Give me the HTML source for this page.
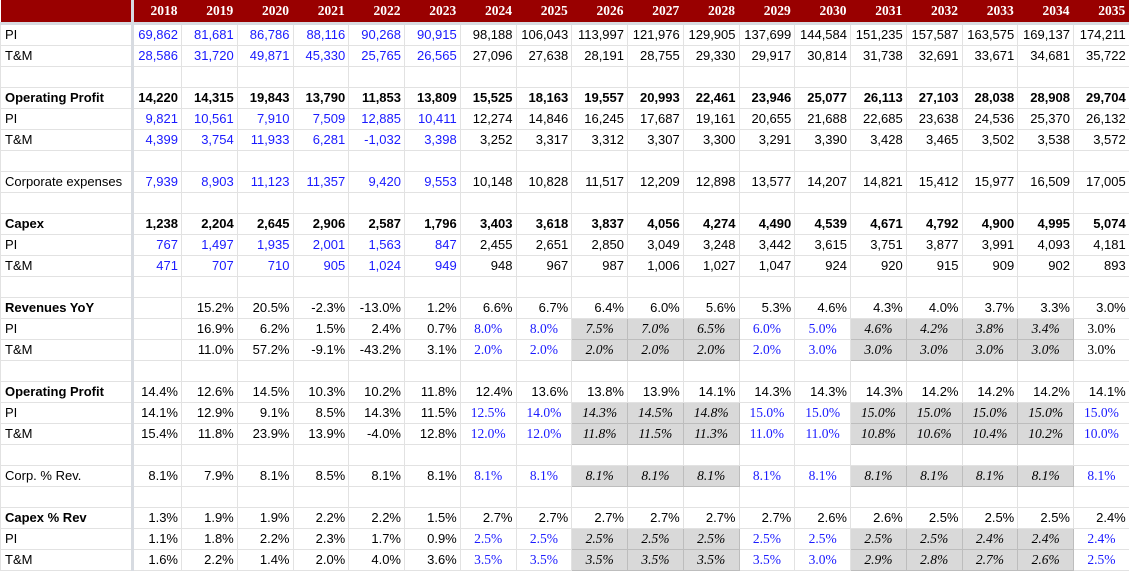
<!DOCTYPE html>
<html><head><meta charset="utf-8"><style>
body{margin:0;background:#fff;width:1129px;height:574px;overflow:hidden}
table{border-collapse:collapse;table-layout:fixed;width:1129px;font-family:"Liberation Sans",Arial,sans-serif;font-size:13px}
td{height:20px;padding:0 3px 0 2px;border:1px solid #e2e2e2;text-align:right;white-space:nowrap;overflow:hidden;color:#000;line-height:20px}
td:first-child{text-align:left;border-right:3px solid #d7dbe1;padding-left:4px}
tr.h td{background:#990000;color:#fff;font-family:"Liberation Serif",serif;font-weight:bold;height:22px;line-height:22px;border:none;border-bottom:3px solid #d7dbe1;font-size:13.5px;padding-right:4px}
tr.h td:first-child{border-right:3px solid #d7dbe1}
.u{color:#1a1aff}
.b td{font-weight:bold}
.l td:first-child{font-weight:bold}
.s,.g,.k{font-family:"Liberation Serif",serif;text-align:center;padding:0;font-size:13.5px}
.s{color:#1a1aff}
.g{background:#d9d9d9;font-style:italic;border-color:#bdbdbd}
</style></head><body>
<table>
<colgroup><col style="width:132px"><col style="width:49px"><col span="17" style="width:55.76px"></colgroup>
<tr class="h"><td></td><td>2018</td><td>2019</td><td>2020</td><td>2021</td><td>2022</td><td>2023</td><td>2024</td><td>2025</td><td>2026</td><td>2027</td><td>2028</td><td>2029</td><td>2030</td><td>2031</td><td>2032</td><td>2033</td><td>2034</td><td>2035</td></tr>
<tr><td>PI</td><td class="u">69,862</td><td class="u">81,681</td><td class="u">86,786</td><td class="u">88,116</td><td class="u">90,268</td><td class="u">90,915</td><td>98,188</td><td>106,043</td><td>113,997</td><td>121,976</td><td>129,905</td><td>137,699</td><td>144,584</td><td>151,235</td><td>157,587</td><td>163,575</td><td>169,137</td><td>174,211</td></tr>
<tr><td>T&amp;M</td><td class="u">28,586</td><td class="u">31,720</td><td class="u">49,871</td><td class="u">45,330</td><td class="u">25,765</td><td class="u">26,565</td><td>27,096</td><td>27,638</td><td>28,191</td><td>28,755</td><td>29,330</td><td>29,917</td><td>30,814</td><td>31,738</td><td>32,691</td><td>33,671</td><td>34,681</td><td>35,722</td></tr>
<tr><td></td><td></td><td></td><td></td><td></td><td></td><td></td><td></td><td></td><td></td><td></td><td></td><td></td><td></td><td></td><td></td><td></td><td></td><td></td></tr>
<tr class="b"><td>Operating Profit</td><td>14,220</td><td>14,315</td><td>19,843</td><td>13,790</td><td>11,853</td><td>13,809</td><td>15,525</td><td>18,163</td><td>19,557</td><td>20,993</td><td>22,461</td><td>23,946</td><td>25,077</td><td>26,113</td><td>27,103</td><td>28,038</td><td>28,908</td><td>29,704</td></tr>
<tr><td>PI</td><td class="u">9,821</td><td class="u">10,561</td><td class="u">7,910</td><td class="u">7,509</td><td class="u">12,885</td><td class="u">10,411</td><td>12,274</td><td>14,846</td><td>16,245</td><td>17,687</td><td>19,161</td><td>20,655</td><td>21,688</td><td>22,685</td><td>23,638</td><td>24,536</td><td>25,370</td><td>26,132</td></tr>
<tr><td>T&amp;M</td><td class="u">4,399</td><td class="u">3,754</td><td class="u">11,933</td><td class="u">6,281</td><td class="u">-1,032</td><td class="u">3,398</td><td>3,252</td><td>3,317</td><td>3,312</td><td>3,307</td><td>3,300</td><td>3,291</td><td>3,390</td><td>3,428</td><td>3,465</td><td>3,502</td><td>3,538</td><td>3,572</td></tr>
<tr><td></td><td></td><td></td><td></td><td></td><td></td><td></td><td></td><td></td><td></td><td></td><td></td><td></td><td></td><td></td><td></td><td></td><td></td><td></td></tr>
<tr><td>Corporate expenses</td><td class="u">7,939</td><td class="u">8,903</td><td class="u">11,123</td><td class="u">11,357</td><td class="u">9,420</td><td class="u">9,553</td><td>10,148</td><td>10,828</td><td>11,517</td><td>12,209</td><td>12,898</td><td>13,577</td><td>14,207</td><td>14,821</td><td>15,412</td><td>15,977</td><td>16,509</td><td>17,005</td></tr>
<tr><td></td><td></td><td></td><td></td><td></td><td></td><td></td><td></td><td></td><td></td><td></td><td></td><td></td><td></td><td></td><td></td><td></td><td></td><td></td></tr>
<tr class="b"><td>Capex</td><td>1,238</td><td>2,204</td><td>2,645</td><td>2,906</td><td>2,587</td><td>1,796</td><td>3,403</td><td>3,618</td><td>3,837</td><td>4,056</td><td>4,274</td><td>4,490</td><td>4,539</td><td>4,671</td><td>4,792</td><td>4,900</td><td>4,995</td><td>5,074</td></tr>
<tr><td>PI</td><td class="u">767</td><td class="u">1,497</td><td class="u">1,935</td><td class="u">2,001</td><td class="u">1,563</td><td class="u">847</td><td>2,455</td><td>2,651</td><td>2,850</td><td>3,049</td><td>3,248</td><td>3,442</td><td>3,615</td><td>3,751</td><td>3,877</td><td>3,991</td><td>4,093</td><td>4,181</td></tr>
<tr><td>T&amp;M</td><td class="u">471</td><td class="u">707</td><td class="u">710</td><td class="u">905</td><td class="u">1,024</td><td class="u">949</td><td>948</td><td>967</td><td>987</td><td>1,006</td><td>1,027</td><td>1,047</td><td>924</td><td>920</td><td>915</td><td>909</td><td>902</td><td>893</td></tr>
<tr><td></td><td></td><td></td><td></td><td></td><td></td><td></td><td></td><td></td><td></td><td></td><td></td><td></td><td></td><td></td><td></td><td></td><td></td><td></td></tr>
<tr class="l"><td>Revenues YoY</td><td></td><td>15.2%</td><td>20.5%</td><td>-2.3%</td><td>-13.0%</td><td>1.2%</td><td>6.6%</td><td>6.7%</td><td>6.4%</td><td>6.0%</td><td>5.6%</td><td>5.3%</td><td>4.6%</td><td>4.3%</td><td>4.0%</td><td>3.7%</td><td>3.3%</td><td>3.0%</td></tr>
<tr><td>PI</td><td></td><td>16.9%</td><td>6.2%</td><td>1.5%</td><td>2.4%</td><td>0.7%</td><td class="s">8.0%</td><td class="s">8.0%</td><td class="g">7.5%</td><td class="g">7.0%</td><td class="g">6.5%</td><td class="s">6.0%</td><td class="s">5.0%</td><td class="g">4.6%</td><td class="g">4.2%</td><td class="g">3.8%</td><td class="g">3.4%</td><td class="k">3.0%</td></tr>
<tr><td>T&amp;M</td><td></td><td>11.0%</td><td>57.2%</td><td>-9.1%</td><td>-43.2%</td><td>3.1%</td><td class="s">2.0%</td><td class="s">2.0%</td><td class="g">2.0%</td><td class="g">2.0%</td><td class="g">2.0%</td><td class="s">2.0%</td><td class="s">3.0%</td><td class="g">3.0%</td><td class="g">3.0%</td><td class="g">3.0%</td><td class="g">3.0%</td><td class="k">3.0%</td></tr>
<tr><td></td><td></td><td></td><td></td><td></td><td></td><td></td><td></td><td></td><td></td><td></td><td></td><td></td><td></td><td></td><td></td><td></td><td></td><td></td></tr>
<tr class="l"><td>Operating Profit</td><td>14.4%</td><td>12.6%</td><td>14.5%</td><td>10.3%</td><td>10.2%</td><td>11.8%</td><td>12.4%</td><td>13.6%</td><td>13.8%</td><td>13.9%</td><td>14.1%</td><td>14.3%</td><td>14.3%</td><td>14.3%</td><td>14.2%</td><td>14.2%</td><td>14.2%</td><td>14.1%</td></tr>
<tr><td>PI</td><td>14.1%</td><td>12.9%</td><td>9.1%</td><td>8.5%</td><td>14.3%</td><td>11.5%</td><td class="s">12.5%</td><td class="s">14.0%</td><td class="g">14.3%</td><td class="g">14.5%</td><td class="g">14.8%</td><td class="s">15.0%</td><td class="s">15.0%</td><td class="g">15.0%</td><td class="g">15.0%</td><td class="g">15.0%</td><td class="g">15.0%</td><td class="s">15.0%</td></tr>
<tr><td>T&amp;M</td><td>15.4%</td><td>11.8%</td><td>23.9%</td><td>13.9%</td><td>-4.0%</td><td>12.8%</td><td class="s">12.0%</td><td class="s">12.0%</td><td class="g">11.8%</td><td class="g">11.5%</td><td class="g">11.3%</td><td class="s">11.0%</td><td class="s">11.0%</td><td class="g">10.8%</td><td class="g">10.6%</td><td class="g">10.4%</td><td class="g">10.2%</td><td class="s">10.0%</td></tr>
<tr><td></td><td></td><td></td><td></td><td></td><td></td><td></td><td></td><td></td><td></td><td></td><td></td><td></td><td></td><td></td><td></td><td></td><td></td><td></td></tr>
<tr><td>Corp. % Rev.</td><td>8.1%</td><td>7.9%</td><td>8.1%</td><td>8.5%</td><td>8.1%</td><td>8.1%</td><td class="s">8.1%</td><td class="s">8.1%</td><td class="g">8.1%</td><td class="g">8.1%</td><td class="g">8.1%</td><td class="s">8.1%</td><td class="s">8.1%</td><td class="g">8.1%</td><td class="g">8.1%</td><td class="g">8.1%</td><td class="g">8.1%</td><td class="s">8.1%</td></tr>
<tr><td></td><td></td><td></td><td></td><td></td><td></td><td></td><td></td><td></td><td></td><td></td><td></td><td></td><td></td><td></td><td></td><td></td><td></td><td></td></tr>
<tr class="l"><td>Capex % Rev</td><td>1.3%</td><td>1.9%</td><td>1.9%</td><td>2.2%</td><td>2.2%</td><td>1.5%</td><td>2.7%</td><td>2.7%</td><td>2.7%</td><td>2.7%</td><td>2.7%</td><td>2.7%</td><td>2.6%</td><td>2.6%</td><td>2.5%</td><td>2.5%</td><td>2.5%</td><td>2.4%</td></tr>
<tr><td>PI</td><td>1.1%</td><td>1.8%</td><td>2.2%</td><td>2.3%</td><td>1.7%</td><td>0.9%</td><td class="s">2.5%</td><td class="s">2.5%</td><td class="g">2.5%</td><td class="g">2.5%</td><td class="g">2.5%</td><td class="s">2.5%</td><td class="s">2.5%</td><td class="g">2.5%</td><td class="g">2.5%</td><td class="g">2.4%</td><td class="g">2.4%</td><td class="s">2.4%</td></tr>
<tr><td>T&amp;M</td><td>1.6%</td><td>2.2%</td><td>1.4%</td><td>2.0%</td><td>4.0%</td><td>3.6%</td><td class="s">3.5%</td><td class="s">3.5%</td><td class="g">3.5%</td><td class="g">3.5%</td><td class="g">3.5%</td><td class="s">3.5%</td><td class="s">3.0%</td><td class="g">2.9%</td><td class="g">2.8%</td><td class="g">2.7%</td><td class="g">2.6%</td><td class="s">2.5%</td></tr>
</table>
</body></html>
